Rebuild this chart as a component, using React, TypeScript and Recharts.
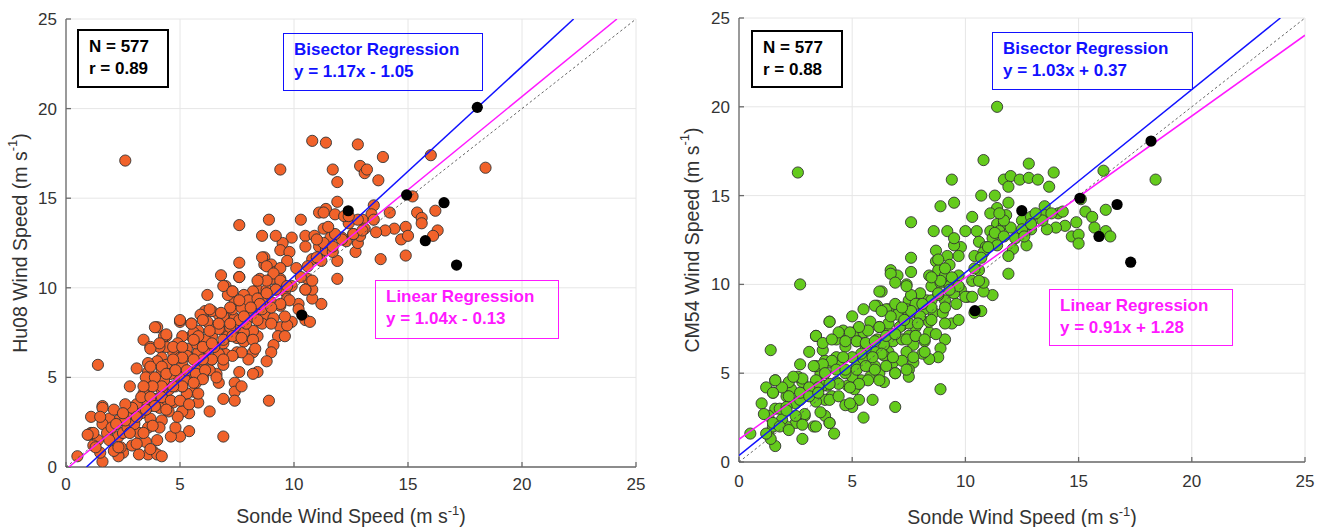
import React from 'react';
import { ScatterChart, Scatter, XAxis, YAxis, CartesianGrid } from 'recharts';

const axisTicks = [0, 5, 10, 15, 20, 25];

// left panel: Sonde vs Hu08 wind speed
const hu08Points: number[][] = [
  [2.6, 17.1], [1.4, 5.7], [0.5, 0.6], [1.6, 0.3], [6.9, 1.7], [8.9, 3.7], [9.4, 16.6], [7.6, 13.5],
  [8.9, 13.8], [10.3, 13.8], [10.8, 18.2], [11.4, 18.1], [12.8, 18.0], [11.7, 16.6], [11.9, 15.9],
  [12.9, 16.8], [13.1, 16.4], [13.2, 16.6], [13.9, 17.3], [13.7, 16.0], [16.0, 17.4], [18.4, 16.7],
  [11.9, 14.8], [11.4, 14.4], [11.1, 14.2], [11.8, 14.1], [13.5, 14.6], [13.4, 14.1], [14.2, 14.2],
  [15.2, 15.1], [15.4, 14.2], [15.6, 13.9], [15.6, 13.6], [16.2, 14.3], [16.3, 13.2], [16.1, 12.9],
  [14.9, 13.4], [14.4, 13.3], [14.0, 13.2], [13.6, 13.1], [14.7, 12.7], [15.0, 12.9], [14.9, 11.8],
  [13.8, 11.6], [12.7, 12.0], [12.8, 12.5], [12.9, 12.9], [12.3, 12.6], [11.9, 11.5], [11.9, 10.5],
  [11.2, 9.1], [10.8, 9.4], [10.8, 9.9], [10.6, 10.5], [10.5, 9.9], [10.2, 9.1], [10.1, 11.1],
  [9.9, 10.1], [10.5, 8.2], [10.7, 8.1], [10.5, 12.9], [10.5, 12.3], [10.9, 12.9], [11.1, 12.3],
  [11.3, 13.3], [11.6, 12.8], [11.4, 12.1], [10.8, 11.6], [11.2, 11.5], [11.7, 12.0], [12.1, 12.8],
  [12.4, 13.6], [12.2, 14.0], [12.6, 13.0], [13.0, 13.8], [13.1, 13.3], [9.9, 12.8], [9.5, 12.5],
  [9.4, 12.1], [9.8, 12.0], [9.7, 11.5], [9.2, 12.9], [8.6, 12.9], [8.7, 11.7], [8.7, 11.3],
  [9.0, 11.3], [9.2, 10.9], [9.4, 11.1], [9.4, 10.5], [9.0, 10.5], [8.5, 10.5], [8.4, 9.9],
  [8.8, 9.9], [9.2, 9.9], [9.6, 9.8], [9.7, 9.4], [9.4, 9.0], [9.0, 9.2], [8.5, 9.4], [8.1, 9.5],
  [7.6, 11.4], [7.6, 10.6], [6.8, 10.7], [7.0, 10.1], [7.3, 9.8], [6.2, 9.6], [6.1, 8.7], [6.7, 8.5],
  [7.2, 8.7], [7.7, 9.0], [7.4, 8.3], [7.9, 8.4], [8.2, 8.8], [8.7, 8.5], [9.1, 8.3], [9.4, 7.8],
  [9.3, 7.3], [9.1, 6.8], [9.0, 6.4], [8.8, 5.9], [8.4, 5.3], [8.2, 5.2], [8.2, 6.4], [8.4, 7.3],
  [8.6, 8.0], [8.2, 7.6], [7.8, 7.5], [7.5, 7.2], [7.8, 7.0], [7.5, 6.4], [8.0, 6.0], [7.6, 5.3],
  [7.4, 4.7], [7.4, 4.2], [7.7, 4.5], [7.4, 3.7], [6.9, 3.8], [6.7, 4.7], [6.6, 5.2], [6.9, 5.7],
  [7.0, 6.3], [6.9, 6.9], [7.0, 7.6], [6.6, 7.9], [6.4, 7.3], [6.2, 6.6], [6.4, 6.0], [6.3, 5.4],
  [6.0, 5.0], [6.3, 3.1], [5.8, 3.6], [5.6, 4.2], [5.8, 4.1], [5.7, 4.8], [5.3, 4.1], [5.4, 2.0],
  [5.4, 3.0], [5.1, 3.1], [5.0, 1.7], [4.6, 1.7], [4.8, 2.2], [4.9, 2.8], [5.1, 4.5], [4.9, 5.1],
  [5.1, 5.7], [5.4, 5.3], [5.6, 6.1], [5.8, 6.4], [6.0, 5.9], [5.7, 6.9], [5.5, 7.3], [5.3, 6.6],
  [5.1, 7.3], [5.0, 8.1], [5.5, 8.0], [5.8, 7.6], [5.9, 8.5], [6.2, 8.1], [4.9, 6.9], [4.7, 6.4],
  [4.4, 6.7], [4.4, 7.3], [4.1, 6.7], [4.2, 6.1], [4.4, 5.7], [4.6, 5.2], [4.2, 5.4], [4.0, 5.9],
  [3.6, 5.8], [3.6, 5.3], [3.9, 4.9], [4.3, 4.8], [4.5, 4.3], [4.2, 4.3], [3.7, 4.5], [3.4, 4.1],
  [3.9, 3.8], [4.3, 3.7], [4.7, 3.6], [4.5, 3.1], [4.1, 3.3], [3.7, 3.4], [3.4, 3.6], [3.1, 3.5],
  [3.3, 3.0], [3.7, 2.7], [4.2, 2.6], [4.1, 2.2], [3.6, 2.2], [3.2, 1.9], [3.5, 1.4], [3.8, 0.9],
  [3.6, 0.7], [3.2, 0.7], [4.0, 0.7], [4.2, 0.6], [2.9, 1.2], [2.5, 0.8], [2.3, 0.6], [2.4, 1.1],
  [2.1, 0.9], [2.3, 1.7], [2.5, 1.9], [2.7, 2.2], [2.3, 2.6], [2.7, 2.9], [3.0, 2.4], [2.9, 3.3],
  [2.6, 3.5], [2.8, 4.5], [3.1, 5.5], [3.4, 7.1], [3.7, 6.7], [4.0, 7.8], [4.3, 7.3], [1.9, 2.7],
  [2.1, 3.2], [1.6, 3.4], [1.6, 2.4], [1.1, 2.8], [1.1, 1.9], [1.0, 1.8], [1.4, 1.5], [1.2, 1.2],
  [1.5, 0.8], [1.8, 1.9], [2.0, 2.2], [9.9, 8.1], [9.7, 7.9], [9.6, 7.3], [8.2, 9.8], [7.8, 9.6],
  [7.4, 9.2], [7.1, 9.6], [8.6, 9.2], [8.1, 9.1], [7.9, 8.0], [7.4, 7.8], [7.1, 7.3], [6.7, 6.3],
  [6.5, 6.7], [6.1, 7.1], [5.6, 7.5], [5.3, 6.2], [5.0, 6.1], [5.7, 5.4], [5.2, 4.9], [4.8, 4.5],
  [5.7, 4.7],
  // dense core, second pass
  [7.6, 10.6], [6.9, 10.1], [7.3, 9.8], [6.4, 8.7], [6.9, 8.4], [7.3, 8.8], [7.7, 8.9], [8.0, 9.3],
  [8.4, 9.4], [8.6, 8.8], [8.2, 8.4], [7.6, 8.2], [7.2, 7.8], [6.7, 7.7], [6.3, 7.6], [5.8, 7.3],
  [5.5, 8.0], [5.0, 8.2], [4.4, 7.4], [3.9, 7.8], [3.7, 6.6], [4.1, 6.9], [4.7, 6.7], [5.1, 6.7],
  [5.6, 7.1], [6.0, 6.7], [6.4, 6.9], [6.9, 7.1], [7.3, 7.3], [7.7, 7.2], [8.2, 7.1], [8.3, 6.6],
  [7.7, 6.4], [7.3, 6.2], [6.9, 6.0], [6.4, 6.0], [6.0, 6.0], [5.6, 6.0], [5.1, 6.1], [4.7, 6.0],
  [4.2, 5.6], [3.7, 5.6], [3.5, 5.0], [3.9, 5.0], [4.4, 5.2], [4.8, 5.4], [5.3, 5.4], [5.7, 5.2],
  [6.1, 5.4], [6.6, 5.0], [6.0, 4.9], [5.6, 4.7], [5.1, 4.5], [4.7, 4.5], [4.2, 4.5], [3.8, 4.5],
  [3.4, 4.5], [3.3, 3.9], [3.7, 3.9], [4.2, 3.9], [4.6, 3.7], [5.0, 3.7], [5.4, 3.5], [4.4, 3.2],
  [3.9, 3.4], [3.5, 3.2], [3.1, 2.8], [2.6, 2.6], [2.2, 2.4], [2.5, 3.0], [1.6, 3.3], [1.5, 2.8],
  [2.8, 1.9], [3.4, 1.9], [3.8, 2.3], [4.0, 1.5], [3.1, 1.3], [3.7, 1.0], [2.3, 1.1], [1.9, 1.5],
  [1.3, 1.1], [1.2, 1.9], [0.95, 1.8],
  [8.6, 11.7], [8.8, 11.2], [9.1, 10.8], [9.4, 10.4], [8.8, 10.4], [8.4, 10.4], [9.7, 10.1], [9.2, 9.9],
  [8.8, 9.7], [9.8, 9.3], [9.4, 9.1], [9.0, 8.9], [8.5, 9.1], [8.1, 8.9], [7.6, 9.3], [7.2, 8.9],
  [6.8, 8.6], [6.3, 8.8], [6.0, 8.2], [6.7, 8.0], [7.2, 8.0], [7.8, 8.4], [8.4, 8.2], [9.0, 8.0],
  [9.6, 8.4], [10.2, 8.8], [10.5, 9.9], [10.8, 10.4], [10.3, 10.6], [10.6, 11.2], [11.0, 11.7],
  [11.3, 12.5], [11.0, 12.7], [11.7, 12.3], [12.1, 12.7], [12.6, 13.0], [11.8, 13.0], [11.5, 13.4],
  [13.0, 13.2], [13.5, 13.8], [12.8, 13.8], [12.4, 14.0], [11.3, 14.2],
];
const hu08Black: number[][] = [
  [18.04, 20.07], [12.38, 14.3], [14.94, 15.18], [16.58, 14.75], [15.76, 12.63], [17.13, 11.27], [10.34, 8.48],
];

// right panel: Sonde vs CM54 wind speed
const cm54Points: number[][] = [
  [2.6, 16.3], [2.7, 10.0], [1.4, 6.3], [0.5, 1.6], [1.6, 0.9], [2.8, 1.3], [11.4, 20.0], [10.8, 17.0],
  [9.4, 15.9], [8.9, 14.4], [9.5, 14.6], [10.7, 15.0], [11.3, 15.0], [11.7, 15.9], [12.0, 16.1],
  [12.4, 15.9], [12.8, 16.8], [12.8, 16.0], [13.2, 15.9], [13.7, 15.5], [13.9, 16.3], [16.1, 16.4],
  [18.4, 15.9], [11.9, 15.5], [11.9, 14.6], [11.4, 14.3], [11.1, 14.0], [11.8, 13.9], [11.4, 13.4],
  [11.7, 13.4], [12.5, 13.6], [12.9, 13.8], [13.5, 14.4], [13.5, 13.9], [14.1, 14.0], [14.3, 14.1],
  [15.1, 14.8], [15.3, 14.1], [15.6, 13.8], [15.7, 13.2], [16.2, 14.2], [16.2, 13.0], [16.4, 12.7],
  [14.9, 13.5], [14.4, 13.3], [14.0, 13.2], [13.6, 13.1], [14.7, 12.7], [15.0, 12.8], [15.0, 12.3],
  [12.9, 13.1], [12.6, 12.9], [12.2, 12.6], [12.7, 12.2], [12.1, 12.0], [11.9, 11.6], [11.9, 10.6],
  [11.2, 9.4], [10.8, 9.6], [10.8, 10.1], [10.6, 10.8], [10.3, 10.2], [10.1, 9.3], [10.7, 8.5],
  [10.4, 8.4], [10.0, 13.0], [10.3, 13.8], [10.5, 13.0], [10.6, 12.4], [11.1, 13.0], [11.2, 12.6],
  [10.9, 12.1], [11.5, 13.0], [11.4, 12.2], [10.4, 11.6], [10.8, 11.8], [9.8, 12.1], [9.5, 12.2],
  [9.2, 13.0], [8.6, 13.0], [9.5, 12.6], [9.7, 11.6], [9.2, 11.6], [8.7, 11.9], [8.7, 11.3],
  [8.8, 10.8], [9.3, 11.1], [9.1, 10.5], [8.4, 10.5], [8.5, 9.9], [8.9, 10.1], [9.3, 9.9], [9.7, 10.5],
  [9.8, 9.7], [9.5, 9.5], [9.1, 9.1], [8.8, 9.4], [8.3, 9.1], [7.6, 11.5], [7.6, 10.7], [7.6, 13.5],
  [6.7, 10.8], [7.0, 10.5], [7.4, 10.0], [6.3, 9.6], [6.1, 8.8], [6.6, 8.6], [7.0, 8.3], [7.5, 9.1],
  [8.0, 9.5], [7.6, 8.4], [8.0, 8.2], [8.6, 8.4], [9.0, 8.4], [9.4, 7.8], [9.1, 6.9], [8.9, 6.4],
  [8.8, 5.9], [8.4, 5.8], [8.2, 6.8], [8.4, 7.3], [7.8, 7.6], [7.5, 7.1], [7.7, 6.6], [7.4, 6.2],
  [7.7, 5.6], [7.5, 5.2], [7.5, 4.8], [6.9, 5.0], [6.9, 3.1], [8.9, 4.1], [6.4, 4.5], [6.8, 5.6],
  [6.6, 6.2], [6.8, 6.8], [6.6, 7.3], [6.2, 7.6], [6.1, 6.9], [6.0, 6.2], [6.0, 5.4], [5.8, 4.8],
  [5.9, 3.5], [5.5, 2.5], [5.3, 3.5], [5.2, 4.3], [5.4, 4.6], [5.0, 3.1], [4.7, 3.2], [5.1, 4.1],
  [4.8, 4.3], [5.0, 4.8], [5.2, 5.4], [5.5, 5.8], [5.6, 6.4], [5.2, 6.8], [5.1, 7.3], [5.5, 7.3],
  [5.8, 7.9], [5.5, 8.6], [5.0, 8.2], [4.6, 7.4], [4.0, 7.9], [4.3, 6.9], [4.7, 6.5], [4.3, 5.9],
  [4.0, 5.6], [4.4, 5.4], [4.7, 5.0], [4.3, 4.5], [3.9, 4.3], [4.1, 3.7], [3.8, 3.5], [4.2, 1.6],
  [4.0, 2.2], [3.8, 2.6], [3.3, 2.0], [3.6, 2.8], [3.4, 3.4], [3.2, 4.0], [3.7, 4.3], [3.6, 5.0],
  [3.4, 5.4], [3.8, 5.7], [3.7, 6.3], [3.4, 7.1], [3.1, 6.2], [3.4, 4.6], [2.9, 3.8], [2.8, 4.5],
  [2.7, 5.5], [2.6, 4.8], [2.3, 4.1], [2.5, 3.3], [2.1, 3.7], [2.2, 4.5], [2.9, 2.6], [2.5, 2.2],
  [2.1, 2.0], [1.9, 2.4], [1.6, 3.0], [1.5, 3.9], [1.6, 4.6], [1.2, 4.2], [1.0, 3.3], [1.3, 2.6],
  [1.3, 1.6], [1.4, 1.3], [1.5, 2.0], [1.8, 3.0], [2.1, 3.1], [2.7, 3.5], [7.8, 7.1], [7.2, 7.7],
  [8.0, 8.9], [7.6, 9.4], [8.4, 7.9], [8.7, 7.2], [8.1, 6.1], [7.2, 6.9], [6.4, 6.6], [6.4, 6.0],
  [6.2, 5.0],
  // dense core, second pass
  [6.7, 10.6], [6.9, 10.1], [7.4, 9.9], [6.2, 9.6], [6.0, 8.8], [6.5, 8.6], [6.9, 8.9], [7.4, 8.6],
  [7.8, 8.9], [8.2, 8.6], [8.5, 9.1], [8.0, 8.2], [7.5, 7.8], [7.1, 7.6], [6.6, 7.8], [6.2, 7.6],
  [5.7, 7.4], [5.3, 7.6], [4.9, 7.3], [4.4, 7.3], [4.0, 7.9], [3.4, 7.1], [3.7, 6.7], [4.1, 6.9],
  [4.7, 6.8], [5.2, 6.8], [5.6, 6.7], [6.0, 6.8], [6.5, 7.1], [6.9, 7.2], [7.4, 6.9], [7.8, 7.1],
  [8.2, 6.9], [8.2, 6.2], [7.7, 5.9], [7.2, 5.7], [6.8, 5.9], [6.3, 6.1], [5.9, 5.9], [5.4, 6.1],
  [5.0, 5.9], [4.6, 5.9], [4.1, 5.7], [3.7, 5.5], [3.3, 5.4], [3.8, 5.0], [4.3, 5.2], [4.7, 5.2],
  [5.2, 5.2], [5.6, 5.4], [6.0, 5.2], [6.5, 5.4], [6.9, 5.0], [7.4, 5.2], [6.2, 4.6], [5.7, 4.6],
  [5.3, 4.4], [4.9, 4.2], [4.4, 4.4], [4.0, 4.4], [3.5, 4.2], [3.1, 4.2], [2.8, 4.7], [2.4, 4.8],
  [1.9, 4.2], [1.6, 4.6], [1.5, 3.9], [2.2, 3.7], [2.7, 3.9], [3.1, 3.7], [3.5, 3.9], [4.0, 3.5],
  [4.4, 3.7], [4.9, 3.3], [2.9, 2.7], [2.5, 2.6], [2.1, 2.9], [1.5, 2.2], [1.2, 1.6], [1.8, 2.0],
  [2.2, 1.8], [2.8, 2.1], [3.4, 2.0], [4.0, 2.2], [1.1, 2.7],
  [8.8, 11.4], [9.1, 10.9], [9.4, 10.4], [8.9, 10.2], [8.5, 10.4], [9.7, 9.9], [9.3, 9.7], [8.8, 9.5],
  [10.0, 9.3], [9.6, 8.9], [9.1, 8.7], [8.5, 8.7], [8.1, 8.9], [7.6, 8.5], [7.2, 8.7], [6.7, 8.2],
  [6.3, 8.5], [7.3, 8.0], [7.9, 7.8], [8.5, 8.0], [9.1, 7.8], [9.7, 8.0], [10.3, 9.3], [10.6, 10.2],
  [10.4, 10.9], [10.7, 11.5], [11.0, 12.1], [11.3, 12.9], [11.7, 12.7], [12.0, 13.2], [12.5, 13.1],
  [12.9, 13.4], [13.4, 13.6], [13.8, 14.0], [13.1, 14.0], [11.7, 13.6], [11.5, 14.0], [12.6, 12.7],
];
const cm54Black: number[][] = [
  [18.2, 18.07], [12.49, 14.15], [15.06, 14.85], [16.7, 14.5], [15.9, 12.7], [17.3, 11.25], [10.42, 8.52],
];

// [slope, intercept] as printed in the boxes
const hu08Bisector = [1.17, -1.05];
const hu08Linear = [1.04, -0.13];
const cm54Bisector = [1.03, 0.37];
const cm54Linear = [0.91, 1.28];
const sampleSize = [577, 577];
const correlation = [0.89, 0.88];

const FONT = '"Liberation Sans", Arial, Helvetica, sans-serif';
const BLUE = '#1111ff';
const PINK = '#ff19ff';

const toXY = (pts: number[][]) => pts.map(([x, y]) => ({ x, y }));

function fitSegment([a, b]: number[]) {
  const x0 = Math.max(0, -b / a);
  const x1 = Math.min(25, (25 - b) / a);
  return [{ x: x0, y: a * x0 + b }, { x: x1, y: a * x1 + b }];
}

const eqText = ([a, b]: number[]) => `y = ${a.toFixed(2)}x ${b < 0 ? '-' : '+'} ${Math.abs(b).toFixed(2)}`;

const dot = (fill: string, stroke: string) => (p: any) =>
  <circle cx={p.cx} cy={p.cy} r={5.6} fill={fill} stroke={stroke} strokeWidth={stroke === 'none' ? 0 : 0.9} />;
const noDot = () => <g />;

function Box({ left, top, width, height, color, border, lines }: any) {
  return (
    <div style={{
      position: 'absolute', left, top, width, height, boxSizing: 'border-box',
      border: `${border}px solid ${color}`, color, fontFamily: FONT, fontWeight: 'bold',
      fontSize: 17, lineHeight: '22px', padding: '5px 0 0 10px', whiteSpace: 'nowrap',
    }}>
      {lines.map((t: string) => <div key={t}>{t}</div>)}
    </div>
  );
}

function Panel({ points, black, fill, yTitle, bis, lin, idx, lay }: any) {
  const xTitle = (props: any) => {
    const vb = props.viewBox;
    return (
      <text x={vb.x + vb.width / 2} y={vb.y + lay.xTitleDy} textAnchor="middle" fontFamily={FONT} fontSize={19.5} fill="#333">
        Sonde Wind Speed (m s<tspan dy={-8} fontSize={13}>-1</tspan><tspan dy={8}>)</tspan>
      </text>
    );
  };
  const yTitleFn = (props: any) => {
    const vb = props.viewBox;
    const cx = lay.yTitleX;
    const cy = vb.y + vb.height / 2;
    return (
      <text x={cx} y={cy} transform={`rotate(-90, ${cx}, ${cy})`} textAnchor="middle" dominantBaseline="central"
        fontFamily={FONT} fontSize={19.5} fill="#333">
        {yTitle} Wind Speed (m s<tspan dy={-8} fontSize={13}>-1</tspan><tspan dy={8}>)</tspan>
      </text>
    );
  };
  return (
    <div style={{ position: 'relative', width: 660, height: 527 }}>
      <ScatterChart width={660} height={527} margin={{ top: lay.top, right: lay.right, bottom: 0, left: 0 }}>
        <CartesianGrid stroke="#e6e6e6" strokeWidth={1} />
        <XAxis type="number" dataKey="x" domain={[0, 25]} ticks={axisTicks} allowDataOverflow height={lay.xh}
          stroke="#6a6a6a" strokeWidth={1.3} tickSize={-5} tickMargin={lay.xTickMargin}
          tick={{ fill: '#333', fontSize: 17, fontFamily: FONT }} label={xTitle} />
        <YAxis type="number" dataKey="y" domain={[0, 25]} ticks={axisTicks} allowDataOverflow width={lay.yw}
          stroke="#6a6a6a" strokeWidth={1.3} tickSize={-5} tickMargin={14}
          tick={{ fill: '#333', fontSize: 17, fontFamily: FONT }} label={yTitleFn} />
        <Scatter data={toXY(points)} shape={dot(fill, '#333')} isAnimationActive={false} />
        <Scatter data={[{ x: 0, y: 0 }, { x: 25, y: 25 }]} shape={noDot} isAnimationActive={false}
          line={{ stroke: '#555', strokeWidth: 0.9, strokeDasharray: '2.5 2.5' }} />
        <Scatter data={fitSegment(lin)} shape={noDot} isAnimationActive={false} line={{ stroke: PINK, strokeWidth: 1.5 }} />
        <Scatter data={fitSegment(bis)} shape={noDot} isAnimationActive={false} line={{ stroke: BLUE, strokeWidth: 1.5 }} />
        <Scatter data={toXY(black)} shape={dot('#000', 'none')} isAnimationActive={false} />
      </ScatterChart>
      <Box {...lay.nBox} color="#000" border={2}
        lines={[`N = ${sampleSize[idx]}`, `r = ${correlation[idx].toFixed(2)}`]} />
      <Box {...lay.bBox} color={BLUE} border={1.5} lines={['Bisector Regression', eqText(bis)]} />
      <Box {...lay.lBox} color={PINK} border={1.5} lines={['Linear Regression', eqText(lin)]} />
    </div>
  );
}

const leftLayout = {
  top: 19, right: 24, yw: 66, xh: 60, xTickMargin: 16, xTitleDy: 56, yTitleX: 20,
  nBox: { left: 77, top: 29, width: 92, height: 59 },
  bBox: { left: 283, top: 33, width: 200, height: 58 },
  lBox: { left: 375, top: 280, width: 184, height: 59 },
};
const rightLayout = {
  top: 18, right: 15, yw: 79, xh: 65, xTickMargin: 18, xTitleDy: 62, yTitleX: 32,
  nBox: { left: 91, top: 30, width: 92, height: 58 },
  bBox: { left: 332, top: 32, width: 201, height: 58 },
  lBox: { left: 389, top: 289, width: 184, height: 57 },
};

export default function App() {
  return (
    <div style={{ position: 'absolute', left: 0, top: 0, width: 1320, height: 527, display: 'flex', background: '#fff' }}>
      <Panel points={hu08Points} black={hu08Black} fill="#f1622a" yTitle="Hu08" bis={hu08Bisector} lin={hu08Linear} idx={0} lay={leftLayout} />
      <Panel points={cm54Points} black={cm54Black} fill="#64cb1c" yTitle="CM54" bis={cm54Bisector} lin={cm54Linear} idx={1} lay={rightLayout} />
    </div>
  );
}
